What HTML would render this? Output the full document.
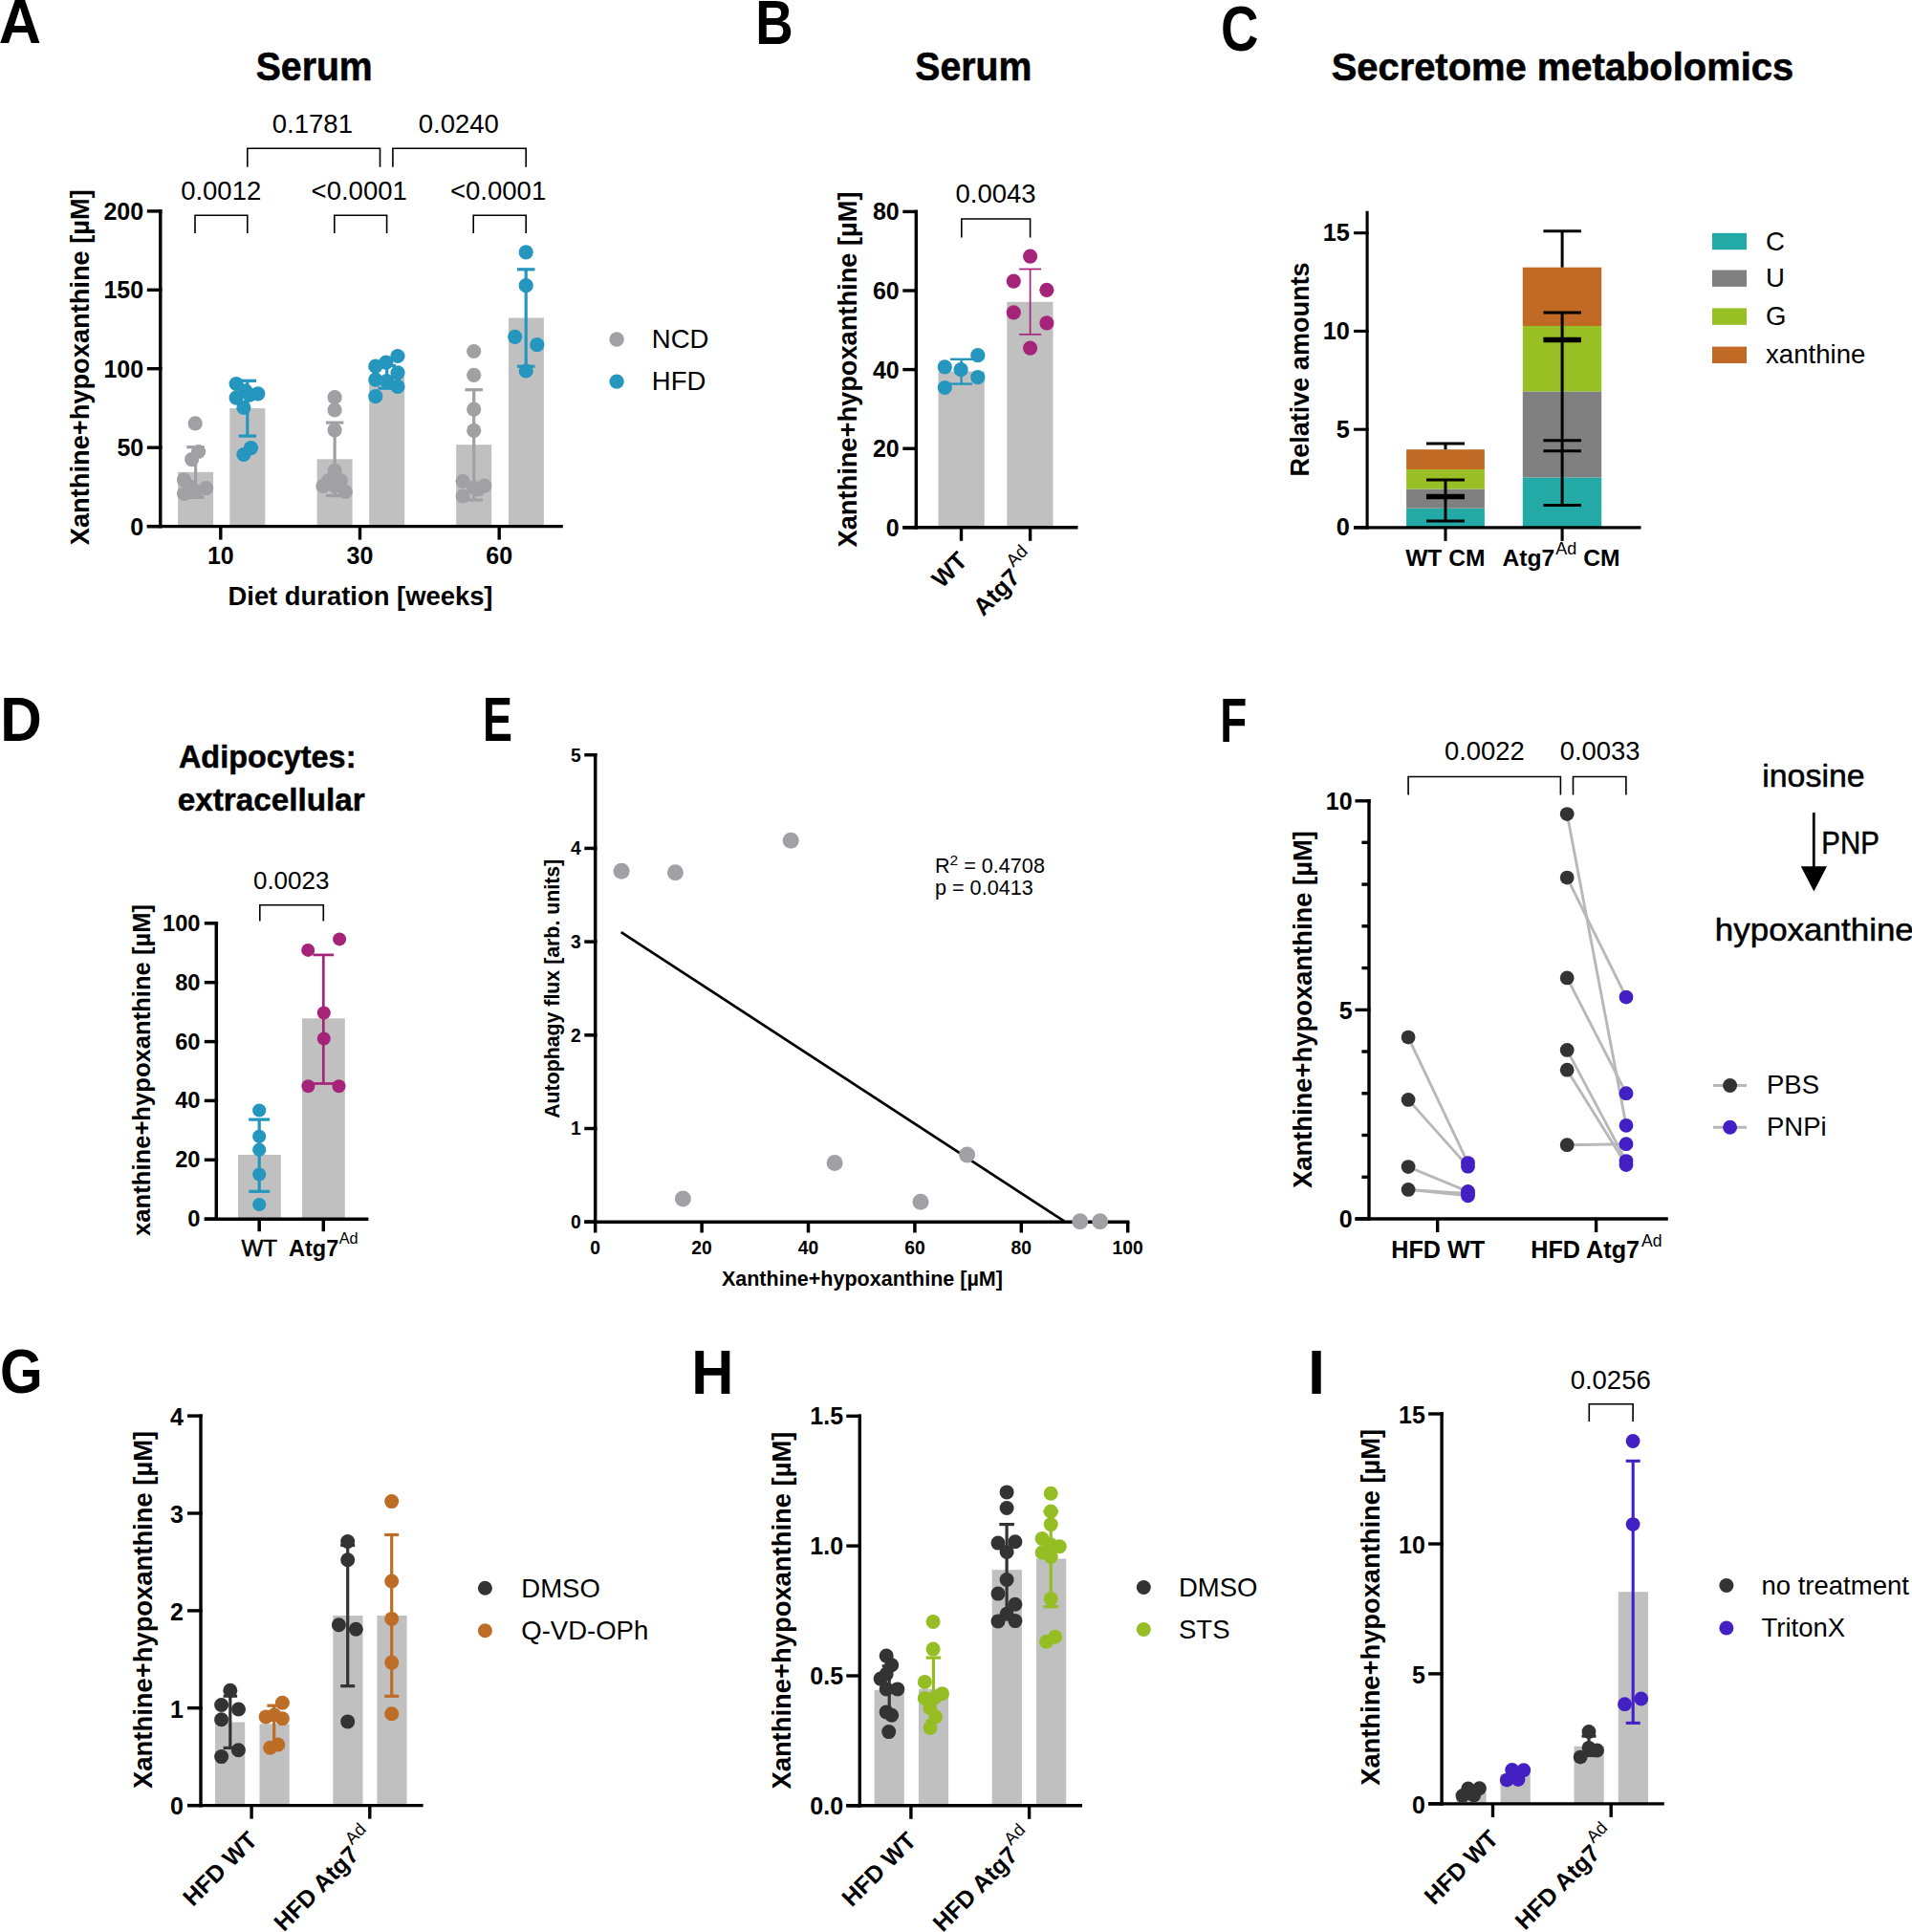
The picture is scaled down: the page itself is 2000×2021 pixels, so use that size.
<!DOCTYPE html>
<html lang="en"><head><meta charset="utf-8"><title>Figure</title>
<style>html,body{margin:0;padding:0;background:#fff}svg{display:block}text{font-family:'Liberation Sans', sans-serif;fill:#000}</style>
</head><body>
<svg width="2000" height="2021" viewBox="0 0 2000 2021">
<rect width="2000" height="2021" fill="#fff"/>
<text x="-1.2" y="45.0" font-size="65" font-weight="bold" text-anchor="start" textLength="44.3" lengthAdjust="spacingAndGlyphs">A</text>
<text x="328.7" y="84.1" font-size="42.5" font-weight="bold" text-anchor="middle" stroke="#000" stroke-width="0.6" textLength="122" lengthAdjust="spacingAndGlyphs">Serum</text>
<rect x="186.1" y="493.8" width="37.0" height="56.8" fill="#c0c0c0"/>
<rect x="240.3" y="427.1" width="37.0" height="123.5" fill="#c0c0c0"/>
<rect x="331.6" y="480.3" width="37.0" height="70.3" fill="#c0c0c0"/>
<rect x="386.2" y="394.2" width="37.0" height="156.4" fill="#c0c0c0"/>
<rect x="477.2" y="465.2" width="37.0" height="85.4" fill="#c0c0c0"/>
<rect x="531.9" y="332.5" width="37.0" height="218.1" fill="#c0c0c0"/>
<line x1="167.8" y1="219.2" x2="167.8" y2="552.3" stroke="#000" stroke-width="3.4" stroke-linecap="butt"/>
<line x1="153.8" y1="220.9" x2="169.5" y2="220.9" stroke="#000" stroke-width="3.4" stroke-linecap="butt"/>
<text x="150.2" y="229.8" font-size="25" font-weight="bold" text-anchor="end">200</text>
<line x1="153.8" y1="303.3" x2="169.5" y2="303.3" stroke="#000" stroke-width="3.4" stroke-linecap="butt"/>
<text x="150.2" y="312.2" font-size="25" font-weight="bold" text-anchor="end">150</text>
<line x1="153.8" y1="385.7" x2="169.5" y2="385.7" stroke="#000" stroke-width="3.4" stroke-linecap="butt"/>
<text x="150.2" y="394.6" font-size="25" font-weight="bold" text-anchor="end">100</text>
<line x1="153.8" y1="468.2" x2="169.5" y2="468.2" stroke="#000" stroke-width="3.4" stroke-linecap="butt"/>
<text x="150.2" y="477.1" font-size="25" font-weight="bold" text-anchor="end">50</text>
<line x1="153.8" y1="550.6" x2="169.5" y2="550.6" stroke="#000" stroke-width="3.4" stroke-linecap="butt"/>
<text x="150.2" y="559.6" font-size="25" font-weight="bold" text-anchor="end">0</text>
<line x1="153.8" y1="550.6" x2="588.8" y2="550.6" stroke="#000" stroke-width="3.4" stroke-linecap="butt"/>
<line x1="230.8" y1="550.6" x2="230.8" y2="564.6" stroke="#000" stroke-width="3.4" stroke-linecap="butt"/>
<line x1="376.5" y1="550.6" x2="376.5" y2="564.6" stroke="#000" stroke-width="3.4" stroke-linecap="butt"/>
<line x1="522.2" y1="550.6" x2="522.2" y2="564.6" stroke="#000" stroke-width="3.4" stroke-linecap="butt"/>
<text x="230.8" y="590.4" font-size="25" font-weight="bold" text-anchor="middle">10</text>
<text x="376.5" y="590.4" font-size="25" font-weight="bold" text-anchor="middle">30</text>
<text x="522.2" y="590.4" font-size="25" font-weight="bold" text-anchor="middle">60</text>
<text x="377.0" y="632.6" font-size="27.4" font-weight="bold" text-anchor="middle" textLength="277" lengthAdjust="spacingAndGlyphs">Diet duration [weeks]</text>
<text transform="translate(92.6,384.2) rotate(-90)" font-size="27" font-weight="bold" text-anchor="middle" textLength="372" lengthAdjust="spacingAndGlyphs">Xanthine+hypoxanthine [µM]</text>
<line x1="204.6" y1="467.7" x2="204.6" y2="520.4" stroke="#a0a0a5" stroke-width="3.2" stroke-linecap="butt"/>
<line x1="195.3" y1="467.7" x2="213.8" y2="467.7" stroke="#a0a0a5" stroke-width="3.2" stroke-linecap="butt"/>
<line x1="195.3" y1="520.4" x2="213.8" y2="520.4" stroke="#a0a0a5" stroke-width="3.2" stroke-linecap="butt"/>
<circle cx="204.2" cy="442.9" r="7.6" fill="#a0a0a5"/>
<circle cx="207.6" cy="472.5" r="7.6" fill="#a0a0a5"/>
<circle cx="200.6" cy="480.6" r="7.6" fill="#a0a0a5"/>
<circle cx="192.5" cy="501.8" r="7.6" fill="#a0a0a5"/>
<circle cx="215.6" cy="510.6" r="7.6" fill="#a0a0a5"/>
<circle cx="192.5" cy="516.5" r="7.6" fill="#a0a0a5"/>
<circle cx="205.4" cy="514.3" r="7.6" fill="#a0a0a5"/>
<circle cx="199.0" cy="509.0" r="7.6" fill="#a0a0a5"/>
<line x1="258.8" y1="398.3" x2="258.8" y2="456.1" stroke="#2596be" stroke-width="3.2" stroke-linecap="butt"/>
<line x1="249.6" y1="398.3" x2="268.1" y2="398.3" stroke="#2596be" stroke-width="3.2" stroke-linecap="butt"/>
<line x1="249.6" y1="456.1" x2="268.1" y2="456.1" stroke="#2596be" stroke-width="3.2" stroke-linecap="butt"/>
<circle cx="247.1" cy="401.5" r="7.6" fill="#2596be"/>
<circle cx="256.7" cy="408.8" r="7.6" fill="#2596be"/>
<circle cx="269.8" cy="411.8" r="7.6" fill="#2596be"/>
<circle cx="247.1" cy="416.1" r="7.6" fill="#2596be"/>
<circle cx="261.0" cy="413.2" r="7.6" fill="#2596be"/>
<circle cx="254.9" cy="426.4" r="7.6" fill="#2596be"/>
<circle cx="262.5" cy="468.6" r="7.6" fill="#2596be"/>
<circle cx="254.9" cy="475.5" r="7.6" fill="#2596be"/>
<line x1="350.1" y1="442.1" x2="350.1" y2="518.6" stroke="#a0a0a5" stroke-width="3.2" stroke-linecap="butt"/>
<line x1="340.9" y1="442.1" x2="359.4" y2="442.1" stroke="#a0a0a5" stroke-width="3.2" stroke-linecap="butt"/>
<line x1="340.9" y1="518.6" x2="359.4" y2="518.6" stroke="#a0a0a5" stroke-width="3.2" stroke-linecap="butt"/>
<circle cx="350.1" cy="415.7" r="7.6" fill="#a0a0a5"/>
<circle cx="350.1" cy="428.9" r="7.6" fill="#a0a0a5"/>
<circle cx="350.1" cy="449.8" r="7.6" fill="#a0a0a5"/>
<circle cx="350.1" cy="492.3" r="7.6" fill="#a0a0a5"/>
<circle cx="343.8" cy="502.5" r="7.6" fill="#a0a0a5"/>
<circle cx="356.2" cy="502.5" r="7.6" fill="#a0a0a5"/>
<circle cx="337.9" cy="508.4" r="7.6" fill="#a0a0a5"/>
<circle cx="350.1" cy="508.4" r="7.6" fill="#a0a0a5"/>
<circle cx="361.3" cy="514.3" r="7.6" fill="#a0a0a5"/>
<line x1="404.7" y1="382.5" x2="404.7" y2="406.2" stroke="#2596be" stroke-width="3.2" stroke-linecap="butt"/>
<line x1="395.4" y1="382.5" x2="413.9" y2="382.5" stroke="#2596be" stroke-width="3.2" stroke-linecap="butt"/>
<line x1="395.4" y1="406.2" x2="413.9" y2="406.2" stroke="#2596be" stroke-width="3.2" stroke-linecap="butt"/>
<circle cx="416.0" cy="372.5" r="7.6" fill="#2596be"/>
<circle cx="403.8" cy="379.2" r="7.6" fill="#2596be"/>
<circle cx="392.8" cy="383.2" r="7.6" fill="#2596be"/>
<circle cx="416.0" cy="389.8" r="7.6" fill="#2596be"/>
<circle cx="392.8" cy="397.1" r="7.6" fill="#2596be"/>
<circle cx="404.5" cy="398.6" r="7.6" fill="#2596be"/>
<circle cx="416.0" cy="404.4" r="7.6" fill="#2596be"/>
<circle cx="392.8" cy="414.7" r="7.6" fill="#2596be"/>
<line x1="495.7" y1="407.7" x2="495.7" y2="523.0" stroke="#a0a0a5" stroke-width="3.2" stroke-linecap="butt"/>
<line x1="486.4" y1="407.7" x2="504.9" y2="407.7" stroke="#a0a0a5" stroke-width="3.2" stroke-linecap="butt"/>
<line x1="486.4" y1="523.0" x2="504.9" y2="523.0" stroke="#a0a0a5" stroke-width="3.2" stroke-linecap="butt"/>
<circle cx="495.7" cy="367.5" r="7.6" fill="#a0a0a5"/>
<circle cx="495.7" cy="392.3" r="7.6" fill="#a0a0a5"/>
<circle cx="495.7" cy="428.2" r="7.6" fill="#a0a0a5"/>
<circle cx="495.7" cy="450.4" r="7.6" fill="#a0a0a5"/>
<circle cx="484.1" cy="503.3" r="7.6" fill="#a0a0a5"/>
<circle cx="506.8" cy="508.1" r="7.6" fill="#a0a0a5"/>
<circle cx="495.7" cy="510.2" r="7.6" fill="#a0a0a5"/>
<circle cx="500.3" cy="512.0" r="7.6" fill="#a0a0a5"/>
<circle cx="484.1" cy="519.0" r="7.6" fill="#a0a0a5"/>
<line x1="550.2" y1="281.8" x2="550.2" y2="383.2" stroke="#2596be" stroke-width="3.2" stroke-linecap="butt"/>
<line x1="541.0" y1="281.8" x2="559.5" y2="281.8" stroke="#2596be" stroke-width="3.2" stroke-linecap="butt"/>
<line x1="541.0" y1="383.2" x2="559.5" y2="383.2" stroke="#2596be" stroke-width="3.2" stroke-linecap="butt"/>
<circle cx="550.2" cy="263.8" r="7.6" fill="#2596be"/>
<circle cx="550.2" cy="298.7" r="7.6" fill="#2596be"/>
<circle cx="538.7" cy="352.3" r="7.6" fill="#2596be"/>
<circle cx="561.8" cy="360.7" r="7.6" fill="#2596be"/>
<circle cx="550.2" cy="388.0" r="7.6" fill="#2596be"/>
<path d="M204.0,244.1 V225.3 H258.8 V244.1" fill="none" stroke="#000" stroke-width="1.6"/>
<path d="M349.8,244.1 V225.3 H404.6 V244.1" fill="none" stroke="#000" stroke-width="1.6"/>
<path d="M495.2,244.1 V225.3 H550.2 V244.1" fill="none" stroke="#000" stroke-width="1.6"/>
<path d="M258.8,174.7 V155.2 H397.5 V174.7" fill="none" stroke="#000" stroke-width="1.6"/>
<path d="M410.9,174.7 V155.2 H550.2 V174.7" fill="none" stroke="#000" stroke-width="1.6"/>
<text x="231.2" y="208.8" font-size="27.5" text-anchor="middle">0.0012</text>
<text x="375.7" y="208.8" font-size="27.5" text-anchor="middle">&lt;0.0001</text>
<text x="521.1" y="208.8" font-size="27.5" text-anchor="middle">&lt;0.0001</text>
<text x="326.9" y="139.1" font-size="27.5" text-anchor="middle">0.1781</text>
<text x="479.8" y="139.1" font-size="27.5" text-anchor="middle">0.0240</text>
<circle cx="645.1" cy="355.0" r="7.7" fill="#a0a0a5"/>
<circle cx="645.1" cy="399.1" r="7.7" fill="#2596be"/>
<text x="681.8" y="364.1" font-size="27.5" text-anchor="start">NCD</text>
<text x="681.8" y="408.1" font-size="27.5" text-anchor="start">HFD</text>
<text x="790.2" y="46.0" font-size="65" font-weight="bold" text-anchor="start" textLength="39.5" lengthAdjust="spacingAndGlyphs">B</text>
<text x="1018.3" y="84.1" font-size="42.5" font-weight="bold" text-anchor="middle" stroke="#000" stroke-width="0.6" textLength="122" lengthAdjust="spacingAndGlyphs">Serum</text>
<rect x="981.5" y="388.5" width="48.2" height="163.3" fill="#c0c0c0"/>
<rect x="1053.3" y="315.8" width="48.2" height="236.0" fill="#c0c0c0"/>
<line x1="958.3" y1="219.7" x2="958.3" y2="553.5" stroke="#000" stroke-width="3.4" stroke-linecap="butt"/>
<line x1="944.3" y1="221.4" x2="960.0" y2="221.4" stroke="#000" stroke-width="3.4" stroke-linecap="butt"/>
<text x="940.7" y="230.3" font-size="25" font-weight="bold" text-anchor="end">80</text>
<line x1="944.3" y1="304.0" x2="960.0" y2="304.0" stroke="#000" stroke-width="3.4" stroke-linecap="butt"/>
<text x="940.7" y="312.9" font-size="25" font-weight="bold" text-anchor="end">60</text>
<line x1="944.3" y1="386.6" x2="960.0" y2="386.6" stroke="#000" stroke-width="3.4" stroke-linecap="butt"/>
<text x="940.7" y="395.6" font-size="25" font-weight="bold" text-anchor="end">40</text>
<line x1="944.3" y1="469.2" x2="960.0" y2="469.2" stroke="#000" stroke-width="3.4" stroke-linecap="butt"/>
<text x="940.7" y="478.1" font-size="25" font-weight="bold" text-anchor="end">20</text>
<line x1="944.3" y1="551.8" x2="960.0" y2="551.8" stroke="#000" stroke-width="3.4" stroke-linecap="butt"/>
<text x="940.7" y="560.8" font-size="25" font-weight="bold" text-anchor="end">0</text>
<line x1="944.3" y1="551.8" x2="1127.5" y2="551.8" stroke="#000" stroke-width="3.4" stroke-linecap="butt"/>
<line x1="1005.5" y1="551.8" x2="1005.5" y2="565.8" stroke="#000" stroke-width="3.4" stroke-linecap="butt"/>
<line x1="1077.6" y1="551.8" x2="1077.6" y2="565.8" stroke="#000" stroke-width="3.4" stroke-linecap="butt"/>
<text transform="translate(896.1,386.5) rotate(-90)" font-size="27" font-weight="bold" text-anchor="middle" textLength="372" lengthAdjust="spacingAndGlyphs">Xanthine+hypoxanthine [µM]</text>
<line x1="1005.6" y1="375.8" x2="1005.6" y2="401.6" stroke="#2596be" stroke-width="2.4" stroke-linecap="butt"/>
<line x1="994.1" y1="375.8" x2="1017.1" y2="375.8" stroke="#2596be" stroke-width="2.4" stroke-linecap="butt"/>
<line x1="994.1" y1="401.6" x2="1017.1" y2="401.6" stroke="#2596be" stroke-width="2.4" stroke-linecap="butt"/>
<circle cx="1022.8" cy="371.7" r="7.6" fill="#2596be"/>
<circle cx="988.3" cy="383.9" r="7.6" fill="#2596be"/>
<circle cx="1005.1" cy="386.7" r="7.6" fill="#2596be"/>
<circle cx="1022.8" cy="394.7" r="7.6" fill="#2596be"/>
<circle cx="988.3" cy="405.5" r="7.6" fill="#2596be"/>
<line x1="1077.6" y1="281.5" x2="1077.6" y2="349.8" stroke="#a6237a" stroke-width="1.7" stroke-linecap="butt"/>
<line x1="1066.1" y1="281.5" x2="1089.1" y2="281.5" stroke="#a6237a" stroke-width="1.7" stroke-linecap="butt"/>
<line x1="1066.1" y1="349.8" x2="1089.1" y2="349.8" stroke="#a6237a" stroke-width="1.7" stroke-linecap="butt"/>
<circle cx="1077.6" cy="268.1" r="7.6" fill="#a6237a"/>
<circle cx="1060.3" cy="294.1" r="7.6" fill="#a6237a"/>
<circle cx="1094.9" cy="303.3" r="7.6" fill="#a6237a"/>
<circle cx="1060.3" cy="326.8" r="7.6" fill="#a6237a"/>
<circle cx="1094.9" cy="337.9" r="7.6" fill="#a6237a"/>
<circle cx="1077.6" cy="364.1" r="7.6" fill="#a6237a"/>
<path d="M1005.8,248.6 V229.0 H1077.6 V248.6" fill="none" stroke="#000" stroke-width="1.6"/>
<text x="1041.6" y="212.2" font-size="27.5" text-anchor="middle">0.0043</text>
<text transform="translate(1013.3,588.1) rotate(-45)" font-size="25.5" font-weight="bold" text-anchor="end">WT</text>
<text transform="translate(1086.1,587.9) rotate(-45)" font-size="25.5" font-weight="bold" text-anchor="end">Atg7<tspan font-weight="normal" font-size="18.6" dx="2" dy="-14.3">Ad</tspan></text>
<text x="1277.0" y="52.8" font-size="66.5" font-weight="bold" text-anchor="start" textLength="39.5" lengthAdjust="spacingAndGlyphs">C</text>
<text x="1634.4" y="83.6" font-size="41.5" font-weight="bold" text-anchor="middle" stroke="#000" stroke-width="0.6" textLength="483.5" lengthAdjust="spacingAndGlyphs">Secretome metabolomics</text>
<rect x="1471.1" y="531.7" width="81.8" height="20.2" fill="#23aaa6"/>
<rect x="1471.1" y="511.5" width="81.8" height="20.2" fill="#808080"/>
<rect x="1471.1" y="491.1" width="81.8" height="20.4" fill="#98c024"/>
<rect x="1471.1" y="470.2" width="81.8" height="20.9" fill="#c06a26"/>
<rect x="1592.8" y="499.4" width="82.4" height="52.5" fill="#23aaa6"/>
<rect x="1592.8" y="409.4" width="82.4" height="90.0" fill="#808080"/>
<rect x="1592.8" y="341.0" width="82.4" height="68.4" fill="#98c024"/>
<rect x="1592.8" y="279.7" width="82.4" height="61.3" fill="#c06a26"/>
<line x1="1512.0" y1="464.1" x2="1512.0" y2="470.2" stroke="#000" stroke-width="3.0" stroke-linecap="butt"/>
<line x1="1492.0" y1="464.1" x2="1532.0" y2="464.1" stroke="#000" stroke-width="3.0" stroke-linecap="butt"/>
<line x1="1512.0" y1="502.1" x2="1512.0" y2="544.9" stroke="#000" stroke-width="3.0" stroke-linecap="butt"/>
<line x1="1492.0" y1="502.1" x2="1532.0" y2="502.1" stroke="#000" stroke-width="3.0" stroke-linecap="butt"/>
<line x1="1492.0" y1="519.6" x2="1532.0" y2="519.6" stroke="#000" stroke-width="5.5" stroke-linecap="butt"/>
<line x1="1492.0" y1="544.9" x2="1532.0" y2="544.9" stroke="#000" stroke-width="3.0" stroke-linecap="butt"/>
<line x1="1634.1" y1="241.7" x2="1634.1" y2="279.7" stroke="#000" stroke-width="3.0" stroke-linecap="butt"/>
<line x1="1614.4" y1="241.7" x2="1653.9" y2="241.7" stroke="#000" stroke-width="3.0" stroke-linecap="butt"/>
<line x1="1634.1" y1="327.0" x2="1634.1" y2="528.4" stroke="#000" stroke-width="3.0" stroke-linecap="butt"/>
<line x1="1614.4" y1="327.0" x2="1653.9" y2="327.0" stroke="#000" stroke-width="3.0" stroke-linecap="butt"/>
<line x1="1614.4" y1="355.5" x2="1653.9" y2="355.5" stroke="#000" stroke-width="5.5" stroke-linecap="butt"/>
<line x1="1614.4" y1="460.8" x2="1653.9" y2="460.8" stroke="#000" stroke-width="3.0" stroke-linecap="butt"/>
<line x1="1614.4" y1="471.7" x2="1653.9" y2="471.7" stroke="#000" stroke-width="3.0" stroke-linecap="butt"/>
<line x1="1614.4" y1="528.4" x2="1653.9" y2="528.4" stroke="#000" stroke-width="3.0" stroke-linecap="butt"/>
<line x1="1430.1" y1="220.8" x2="1430.1" y2="553.4" stroke="#000" stroke-width="3.1" stroke-linecap="butt"/>
<line x1="1416.1" y1="243.7" x2="1431.6" y2="243.7" stroke="#000" stroke-width="3.1" stroke-linecap="butt"/>
<text x="1411.9" y="252.0" font-size="25.3" font-weight="bold" text-anchor="end">15</text>
<line x1="1416.1" y1="346.4" x2="1431.6" y2="346.4" stroke="#000" stroke-width="3.1" stroke-linecap="butt"/>
<text x="1411.9" y="354.7" font-size="25.3" font-weight="bold" text-anchor="end">10</text>
<line x1="1416.1" y1="449.2" x2="1431.6" y2="449.2" stroke="#000" stroke-width="3.1" stroke-linecap="butt"/>
<text x="1411.9" y="457.5" font-size="25.3" font-weight="bold" text-anchor="end">5</text>
<line x1="1416.1" y1="551.9" x2="1431.6" y2="551.9" stroke="#000" stroke-width="3.1" stroke-linecap="butt"/>
<text x="1411.9" y="560.2" font-size="25.3" font-weight="bold" text-anchor="end">0</text>
<line x1="1416.2" y1="551.9" x2="1716.5" y2="551.9" stroke="#000" stroke-width="3.1" stroke-linecap="butt"/>
<line x1="1512.0" y1="551.9" x2="1512.0" y2="565.9" stroke="#000" stroke-width="3.1" stroke-linecap="butt"/>
<line x1="1634.1" y1="551.9" x2="1634.1" y2="565.9" stroke="#000" stroke-width="3.1" stroke-linecap="butt"/>
<text transform="translate(1369.3,386.4) rotate(-90)" font-size="27.5" font-weight="bold" text-anchor="middle" textLength="224" lengthAdjust="spacingAndGlyphs">Relative amounts</text>
<text x="1511.8" y="592.1" font-size="24.6" font-weight="bold" text-anchor="middle">WT CM</text>
<text x="1633.0" y="592.1" font-size="24.6" font-weight="bold" text-anchor="middle">Atg7<tspan font-weight="normal" font-size="18" dx="1" dy="-12.5">Ad</tspan><tspan dy="12.5"> CM</tspan></text>
<rect x="1791.0" y="243.8" width="36.0" height="17.4" fill="#23aaa6"/>
<text x="1847.0" y="261.5" font-size="27.6" text-anchor="start">C</text>
<rect x="1791.0" y="282.5" width="36.0" height="17.4" fill="#808080"/>
<text x="1847.0" y="300.2" font-size="27.6" text-anchor="start">U</text>
<rect x="1791.0" y="322.4" width="36.0" height="17.4" fill="#98c024"/>
<text x="1847.0" y="340.1" font-size="27.6" text-anchor="start">G</text>
<rect x="1791.0" y="362.6" width="36.0" height="17.4" fill="#c06a26"/>
<text x="1847.0" y="380.3" font-size="27.6" text-anchor="start">xanthine</text>
<text x="0.3" y="775.0" font-size="65" font-weight="bold" text-anchor="start" textLength="43.5" lengthAdjust="spacingAndGlyphs">D</text>
<text x="279.7" y="802.6" font-size="32.8" font-weight="bold" text-anchor="middle" stroke="#000" stroke-width="0.5" textLength="185.5" lengthAdjust="spacingAndGlyphs">Adipocytes:</text>
<text x="283.7" y="847.8" font-size="32.8" font-weight="bold" text-anchor="middle" stroke="#000" stroke-width="0.5" textLength="196" lengthAdjust="spacingAndGlyphs">extracellular</text>
<rect x="249.0" y="1208.0" width="44.8" height="67.2" fill="#c0c0c0"/>
<rect x="316.0" y="1065.3" width="44.8" height="209.9" fill="#c0c0c0"/>
<line x1="226.3" y1="964.0" x2="226.3" y2="1277.0" stroke="#000" stroke-width="3.5" stroke-linecap="butt"/>
<line x1="213.8" y1="965.8" x2="228.1" y2="965.8" stroke="#000" stroke-width="3.5" stroke-linecap="butt"/>
<text x="209.5" y="973.7" font-size="23.7" font-weight="bold" text-anchor="end">100</text>
<line x1="213.8" y1="1027.7" x2="228.1" y2="1027.7" stroke="#000" stroke-width="3.5" stroke-linecap="butt"/>
<text x="209.5" y="1035.6" font-size="23.7" font-weight="bold" text-anchor="end">80</text>
<line x1="213.8" y1="1089.6" x2="228.1" y2="1089.6" stroke="#000" stroke-width="3.5" stroke-linecap="butt"/>
<text x="209.5" y="1097.5" font-size="23.7" font-weight="bold" text-anchor="end">60</text>
<line x1="213.8" y1="1151.4" x2="228.1" y2="1151.4" stroke="#000" stroke-width="3.5" stroke-linecap="butt"/>
<text x="209.5" y="1159.3" font-size="23.7" font-weight="bold" text-anchor="end">40</text>
<line x1="213.8" y1="1213.3" x2="228.1" y2="1213.3" stroke="#000" stroke-width="3.5" stroke-linecap="butt"/>
<text x="209.5" y="1221.2" font-size="23.7" font-weight="bold" text-anchor="end">20</text>
<line x1="213.8" y1="1275.2" x2="228.1" y2="1275.2" stroke="#000" stroke-width="3.5" stroke-linecap="butt"/>
<text x="209.5" y="1283.1" font-size="23.7" font-weight="bold" text-anchor="end">0</text>
<line x1="213.8" y1="1275.2" x2="385.4" y2="1275.2" stroke="#000" stroke-width="3.5" stroke-linecap="butt"/>
<line x1="271.2" y1="1275.2" x2="271.2" y2="1288.2" stroke="#000" stroke-width="3.5" stroke-linecap="butt"/>
<line x1="338.3" y1="1275.2" x2="338.3" y2="1288.2" stroke="#000" stroke-width="3.5" stroke-linecap="butt"/>
<text transform="translate(157.1,1119.4) rotate(-90)" font-size="25.5" font-weight="bold" text-anchor="middle" textLength="347" lengthAdjust="spacingAndGlyphs">xanthine+hypoxanthine [µM]</text>
<line x1="271.2" y1="1171.1" x2="271.2" y2="1246.3" stroke="#2596be" stroke-width="3.2" stroke-linecap="butt"/>
<line x1="260.2" y1="1171.1" x2="282.2" y2="1171.1" stroke="#2596be" stroke-width="3.2" stroke-linecap="butt"/>
<line x1="260.2" y1="1246.3" x2="282.2" y2="1246.3" stroke="#2596be" stroke-width="3.2" stroke-linecap="butt"/>
<circle cx="271.2" cy="1161.5" r="7.1" fill="#2596be"/>
<circle cx="271.2" cy="1188.8" r="7.1" fill="#2596be"/>
<circle cx="271.2" cy="1202.7" r="7.1" fill="#2596be"/>
<circle cx="271.2" cy="1228.5" r="7.1" fill="#2596be"/>
<circle cx="271.2" cy="1260.0" r="7.1" fill="#2596be"/>
<line x1="338.3" y1="998.9" x2="338.3" y2="1133.5" stroke="#a6237a" stroke-width="2.7" stroke-linecap="butt"/>
<line x1="327.4" y1="998.9" x2="349.2" y2="998.9" stroke="#a6237a" stroke-width="2.7" stroke-linecap="butt"/>
<line x1="327.4" y1="1133.5" x2="349.2" y2="1133.5" stroke="#a6237a" stroke-width="2.7" stroke-linecap="butt"/>
<circle cx="355.1" cy="982.4" r="7.0" fill="#a6237a"/>
<circle cx="322.2" cy="993.9" r="7.0" fill="#a6237a"/>
<circle cx="338.8" cy="1059.5" r="7.0" fill="#a6237a"/>
<circle cx="338.8" cy="1086.5" r="7.0" fill="#a6237a"/>
<circle cx="322.4" cy="1136.2" r="7.0" fill="#a6237a"/>
<circle cx="354.5" cy="1136.2" r="7.0" fill="#a6237a"/>
<path d="M271.8,963.5 V946.7 H338.3 V963.5" fill="none" stroke="#000" stroke-width="1.6"/>
<text x="304.7" y="929.9" font-size="26" text-anchor="middle">0.0023</text>
<text x="271.2" y="1313.8" font-size="24.2" text-anchor="middle" stroke="#000" stroke-width="0.55">WT</text>
<text x="302.0" y="1313.8" font-size="23.5" font-weight="bold" text-anchor="start">Atg7<tspan font-weight="normal" font-size="16.3" dx="0.5" dy="-12.4">Ad</tspan></text>
<text x="505.0" y="775.4" font-size="65" font-weight="bold" text-anchor="start" textLength="31" lengthAdjust="spacingAndGlyphs">E</text>
<line x1="622.7" y1="788.0" x2="622.7" y2="1280.0" stroke="#000" stroke-width="3.5" stroke-linecap="butt"/>
<line x1="611.3" y1="789.7" x2="624.5" y2="789.7" stroke="#000" stroke-width="3.5" stroke-linecap="butt"/>
<text x="607.8" y="796.6" font-size="19.3" font-weight="bold" text-anchor="end">5</text>
<line x1="611.3" y1="887.4" x2="624.5" y2="887.4" stroke="#000" stroke-width="3.5" stroke-linecap="butt"/>
<text x="607.8" y="894.3" font-size="19.3" font-weight="bold" text-anchor="end">4</text>
<line x1="611.3" y1="985.1" x2="624.5" y2="985.1" stroke="#000" stroke-width="3.5" stroke-linecap="butt"/>
<text x="607.8" y="992.0" font-size="19.3" font-weight="bold" text-anchor="end">3</text>
<line x1="611.3" y1="1082.8" x2="624.5" y2="1082.8" stroke="#000" stroke-width="3.5" stroke-linecap="butt"/>
<text x="607.8" y="1089.7" font-size="19.3" font-weight="bold" text-anchor="end">2</text>
<line x1="611.3" y1="1180.5" x2="624.5" y2="1180.5" stroke="#000" stroke-width="3.5" stroke-linecap="butt"/>
<text x="607.8" y="1187.4" font-size="19.3" font-weight="bold" text-anchor="end">1</text>
<line x1="611.3" y1="1278.2" x2="624.5" y2="1278.2" stroke="#000" stroke-width="3.5" stroke-linecap="butt"/>
<text x="607.8" y="1285.1" font-size="19.3" font-weight="bold" text-anchor="end">0</text>
<line x1="611.3" y1="1278.2" x2="1181.4" y2="1278.2" stroke="#000" stroke-width="3.5" stroke-linecap="butt"/>
<line x1="622.7" y1="1278.2" x2="622.7" y2="1289.5" stroke="#000" stroke-width="3.5" stroke-linecap="butt"/>
<line x1="734.1" y1="1278.2" x2="734.1" y2="1289.5" stroke="#000" stroke-width="3.5" stroke-linecap="butt"/>
<line x1="845.5" y1="1278.2" x2="845.5" y2="1289.5" stroke="#000" stroke-width="3.5" stroke-linecap="butt"/>
<line x1="956.9" y1="1278.2" x2="956.9" y2="1289.5" stroke="#000" stroke-width="3.5" stroke-linecap="butt"/>
<line x1="1068.3" y1="1278.2" x2="1068.3" y2="1289.5" stroke="#000" stroke-width="3.5" stroke-linecap="butt"/>
<line x1="1179.7" y1="1278.2" x2="1179.7" y2="1289.5" stroke="#000" stroke-width="3.5" stroke-linecap="butt"/>
<text x="622.7" y="1311.7" font-size="19.3" font-weight="bold" text-anchor="middle">0</text>
<text x="734.1" y="1311.7" font-size="19.3" font-weight="bold" text-anchor="middle">20</text>
<text x="845.5" y="1311.7" font-size="19.3" font-weight="bold" text-anchor="middle">40</text>
<text x="956.9" y="1311.7" font-size="19.3" font-weight="bold" text-anchor="middle">60</text>
<text x="1068.3" y="1311.7" font-size="19.3" font-weight="bold" text-anchor="middle">80</text>
<text x="1179.7" y="1311.7" font-size="19.3" font-weight="bold" text-anchor="middle">100</text>
<text x="901.9" y="1345.3" font-size="21.4" font-weight="bold" text-anchor="middle" textLength="294" lengthAdjust="spacingAndGlyphs">Xanthine+hypoxanthine [µM]</text>
<text transform="translate(584.8,1034.3) rotate(-90)" font-size="21.3" font-weight="bold" text-anchor="middle" textLength="271" lengthAdjust="spacingAndGlyphs">Autophagy flux [arb. units]</text>
<line x1="649.7" y1="975.1" x2="1113.5" y2="1277.7" stroke="#000" stroke-width="2.7" stroke-linecap="butt"/>
<circle cx="650.1" cy="911.3" r="8.5" fill="#a0a0a5"/>
<circle cx="706.4" cy="912.8" r="8.5" fill="#a0a0a5"/>
<circle cx="827.2" cy="879.3" r="8.5" fill="#a0a0a5"/>
<circle cx="873.1" cy="1216.5" r="8.5" fill="#a0a0a5"/>
<circle cx="714.4" cy="1254.1" r="8.5" fill="#a0a0a5"/>
<circle cx="963.0" cy="1257.2" r="8.5" fill="#a0a0a5"/>
<circle cx="1011.6" cy="1208.0" r="8.5" fill="#a0a0a5"/>
<circle cx="1129.8" cy="1277.7" r="8.5" fill="#a0a0a5"/>
<circle cx="1150.7" cy="1277.7" r="8.5" fill="#a0a0a5"/>
<text x="978.0" y="912.7" font-size="21.6" text-anchor="start">R<tspan font-size="15.5" dy="-7.5">2</tspan><tspan dy="7.5"> = 0.4708</tspan></text>
<text x="978.0" y="936.3" font-size="21.6" text-anchor="start">p = 0.0413</text>
<text x="1276.3" y="776.4" font-size="65" font-weight="bold" text-anchor="start" textLength="28" lengthAdjust="spacingAndGlyphs">F</text>
<line x1="1432.0" y1="836.1" x2="1432.0" y2="1276.7" stroke="#000" stroke-width="3.4" stroke-linecap="butt"/>
<line x1="1417.5" y1="837.8" x2="1433.7" y2="837.8" stroke="#000" stroke-width="3.4" stroke-linecap="butt"/>
<text x="1414.6" y="847.0" font-size="25" font-weight="bold" text-anchor="end">10</text>
<line x1="1417.5" y1="1056.4" x2="1433.7" y2="1056.4" stroke="#000" stroke-width="3.4" stroke-linecap="butt"/>
<text x="1414.6" y="1065.7" font-size="25" font-weight="bold" text-anchor="end">5</text>
<line x1="1417.5" y1="1275.0" x2="1433.7" y2="1275.0" stroke="#000" stroke-width="3.4" stroke-linecap="butt"/>
<text x="1414.6" y="1284.2" font-size="25" font-weight="bold" text-anchor="end">0</text>
<line x1="1424.4" y1="1231.3" x2="1432.0" y2="1231.3" stroke="#000" stroke-width="3.4" stroke-linecap="butt"/>
<line x1="1424.4" y1="1187.5" x2="1432.0" y2="1187.5" stroke="#000" stroke-width="3.4" stroke-linecap="butt"/>
<line x1="1424.4" y1="1143.8" x2="1432.0" y2="1143.8" stroke="#000" stroke-width="3.4" stroke-linecap="butt"/>
<line x1="1424.4" y1="1100.0" x2="1432.0" y2="1100.0" stroke="#000" stroke-width="3.4" stroke-linecap="butt"/>
<line x1="1424.4" y1="1012.6" x2="1432.0" y2="1012.6" stroke="#000" stroke-width="3.4" stroke-linecap="butt"/>
<line x1="1424.4" y1="968.8" x2="1432.0" y2="968.8" stroke="#000" stroke-width="3.4" stroke-linecap="butt"/>
<line x1="1424.4" y1="925.1" x2="1432.0" y2="925.1" stroke="#000" stroke-width="3.4" stroke-linecap="butt"/>
<line x1="1424.4" y1="881.3" x2="1432.0" y2="881.3" stroke="#000" stroke-width="3.4" stroke-linecap="butt"/>
<line x1="1417.5" y1="1275.0" x2="1744.8" y2="1275.0" stroke="#000" stroke-width="3.4" stroke-linecap="butt"/>
<line x1="1503.7" y1="1275.0" x2="1503.7" y2="1289.0" stroke="#000" stroke-width="3.4" stroke-linecap="butt"/>
<line x1="1669.6" y1="1275.0" x2="1669.6" y2="1289.0" stroke="#000" stroke-width="3.4" stroke-linecap="butt"/>
<text transform="translate(1372.1,1056.1) rotate(-90)" font-size="27" font-weight="bold" text-anchor="middle" textLength="374" lengthAdjust="spacingAndGlyphs">Xanthine+hypoxanthine [µM]</text>
<line x1="1473.1" y1="1085.1" x2="1535.5" y2="1216.6" stroke="#b8b8b8" stroke-width="2.9" stroke-linecap="butt"/>
<line x1="1473.1" y1="1150.4" x2="1535.5" y2="1220.2" stroke="#b8b8b8" stroke-width="2.9" stroke-linecap="butt"/>
<line x1="1473.1" y1="1220.6" x2="1535.5" y2="1246.4" stroke="#b8b8b8" stroke-width="2.9" stroke-linecap="butt"/>
<line x1="1473.1" y1="1244.4" x2="1535.5" y2="1250.8" stroke="#b8b8b8" stroke-width="2.9" stroke-linecap="butt"/>
<line x1="1473.1" y1="1244.4" x2="1535.5" y2="1248.5" stroke="#b8b8b8" stroke-width="2.9" stroke-linecap="butt"/>
<line x1="1639.2" y1="851.6" x2="1701.0" y2="1177.3" stroke="#b8b8b8" stroke-width="2.9" stroke-linecap="butt"/>
<line x1="1639.2" y1="918.1" x2="1701.0" y2="1043.1" stroke="#b8b8b8" stroke-width="2.9" stroke-linecap="butt"/>
<line x1="1639.2" y1="1022.9" x2="1701.0" y2="1143.7" stroke="#b8b8b8" stroke-width="2.9" stroke-linecap="butt"/>
<line x1="1639.2" y1="1098.4" x2="1701.0" y2="1214.6" stroke="#b8b8b8" stroke-width="2.9" stroke-linecap="butt"/>
<line x1="1639.2" y1="1119.2" x2="1701.0" y2="1218.6" stroke="#b8b8b8" stroke-width="2.9" stroke-linecap="butt"/>
<line x1="1639.2" y1="1197.7" x2="1701.0" y2="1196.7" stroke="#b8b8b8" stroke-width="2.9" stroke-linecap="butt"/>
<circle cx="1473.1" cy="1085.1" r="7.4" fill="#333333"/>
<circle cx="1473.1" cy="1150.4" r="7.4" fill="#333333"/>
<circle cx="1473.1" cy="1220.6" r="7.4" fill="#333333"/>
<circle cx="1473.1" cy="1244.4" r="7.4" fill="#333333"/>
<circle cx="1535.5" cy="1216.6" r="7.4" fill="#4320c4"/>
<circle cx="1535.5" cy="1220.2" r="7.4" fill="#4320c4"/>
<circle cx="1535.5" cy="1246.4" r="7.4" fill="#4320c4"/>
<circle cx="1535.5" cy="1250.8" r="7.4" fill="#4320c4"/>
<circle cx="1535.5" cy="1248.5" r="7.4" fill="#4320c4"/>
<circle cx="1639.2" cy="851.6" r="7.4" fill="#333333"/>
<circle cx="1701.0" cy="1177.3" r="7.4" fill="#4320c4"/>
<circle cx="1639.2" cy="918.1" r="7.4" fill="#333333"/>
<circle cx="1701.0" cy="1043.1" r="7.4" fill="#4320c4"/>
<circle cx="1639.2" cy="1022.9" r="7.4" fill="#333333"/>
<circle cx="1701.0" cy="1143.7" r="7.4" fill="#4320c4"/>
<circle cx="1639.2" cy="1098.4" r="7.4" fill="#333333"/>
<circle cx="1701.0" cy="1214.6" r="7.4" fill="#4320c4"/>
<circle cx="1639.2" cy="1119.2" r="7.4" fill="#333333"/>
<circle cx="1701.0" cy="1218.6" r="7.4" fill="#4320c4"/>
<circle cx="1639.2" cy="1197.7" r="7.4" fill="#333333"/>
<circle cx="1701.0" cy="1196.7" r="7.4" fill="#4320c4"/>
<path d="M1473.1,831.6 V812.5 H1632.4 V831.6" fill="none" stroke="#000" stroke-width="1.6"/>
<path d="M1645.5,831.6 V812.5 H1700.9 V831.6" fill="none" stroke="#000" stroke-width="1.6"/>
<text x="1552.9" y="795.3" font-size="27.4" text-anchor="middle">0.0022</text>
<text x="1673.6" y="795.3" font-size="27.4" text-anchor="middle">0.0033</text>
<text x="1504.2" y="1316.0" font-size="25.2" font-weight="bold" text-anchor="middle">HFD WT</text>
<text x="1601.3" y="1316.0" font-size="25.2" font-weight="bold" text-anchor="start">HFD Atg7<tspan font-weight="normal" font-size="17.6" dx="2" dy="-12.5">Ad</tspan></text>
<line x1="1792.0" y1="1135.5" x2="1827.0" y2="1135.5" stroke="#b8b8b8" stroke-width="2.9" stroke-linecap="butt"/>
<circle cx="1809.6" cy="1135.5" r="7.5" fill="#333333"/>
<line x1="1792.0" y1="1179.2" x2="1827.0" y2="1179.2" stroke="#b8b8b8" stroke-width="2.9" stroke-linecap="butt"/>
<circle cx="1809.6" cy="1179.2" r="7.5" fill="#4320c4"/>
<text x="1848.0" y="1144.4" font-size="27.5" text-anchor="start">PBS</text>
<text x="1848.0" y="1188.1" font-size="27.5" text-anchor="start">PNPi</text>
<text x="1843.2" y="822.8" font-size="33" text-anchor="start" stroke="#000" stroke-width="0.5" textLength="107.5" lengthAdjust="spacingAndGlyphs">inosine</text>
<text x="1905.3" y="893.1" font-size="33" text-anchor="start" stroke="#000" stroke-width="0.5" textLength="60.5" lengthAdjust="spacingAndGlyphs">PNP</text>
<text x="1793.8" y="983.8" font-size="33" text-anchor="start" stroke="#000" stroke-width="0.5" textLength="208" lengthAdjust="spacingAndGlyphs">hypoxanthine</text>
<line x1="1897.3" y1="850.0" x2="1897.3" y2="908.0" stroke="#000" stroke-width="2.8" stroke-linecap="butt"/>
<path d="M1883.8,906.2 H1911 L1897.4,932.5 Z" fill="#000"/>
<text x="0.0" y="1457.3" font-size="65" font-weight="bold" text-anchor="start" textLength="44.7" lengthAdjust="spacingAndGlyphs">G</text>
<rect x="225.0" y="1801.5" width="31.2" height="87.1" fill="#c0c0c0"/>
<rect x="271.5" y="1803.3" width="31.2" height="85.3" fill="#c0c0c0"/>
<rect x="348.3" y="1690.0" width="31.2" height="198.6" fill="#c0c0c0"/>
<rect x="394.4" y="1690.0" width="31.2" height="198.6" fill="#c0c0c0"/>
<line x1="210.0" y1="1479.4" x2="210.0" y2="1890.3" stroke="#000" stroke-width="3.4" stroke-linecap="butt"/>
<line x1="196.0" y1="1481.1" x2="211.7" y2="1481.1" stroke="#000" stroke-width="3.4" stroke-linecap="butt"/>
<text x="191.8" y="1490.8" font-size="25" font-weight="bold" text-anchor="end">4</text>
<line x1="196.0" y1="1583.0" x2="211.7" y2="1583.0" stroke="#000" stroke-width="3.4" stroke-linecap="butt"/>
<text x="191.8" y="1592.8" font-size="25" font-weight="bold" text-anchor="end">3</text>
<line x1="196.0" y1="1684.9" x2="211.7" y2="1684.9" stroke="#000" stroke-width="3.4" stroke-linecap="butt"/>
<text x="191.8" y="1694.7" font-size="25" font-weight="bold" text-anchor="end">2</text>
<line x1="196.0" y1="1786.7" x2="211.7" y2="1786.7" stroke="#000" stroke-width="3.4" stroke-linecap="butt"/>
<text x="191.8" y="1796.5" font-size="25" font-weight="bold" text-anchor="end">1</text>
<line x1="196.0" y1="1888.6" x2="211.7" y2="1888.6" stroke="#000" stroke-width="3.4" stroke-linecap="butt"/>
<text x="191.8" y="1898.3" font-size="25" font-weight="bold" text-anchor="end">0</text>
<line x1="196.5" y1="1888.6" x2="442.6" y2="1888.6" stroke="#000" stroke-width="3.4" stroke-linecap="butt"/>
<line x1="263.1" y1="1888.6" x2="263.1" y2="1902.6" stroke="#000" stroke-width="3.4" stroke-linecap="butt"/>
<line x1="386.8" y1="1888.6" x2="386.8" y2="1902.6" stroke="#000" stroke-width="3.4" stroke-linecap="butt"/>
<text transform="translate(159.3,1683.9) rotate(-90)" font-size="27" font-weight="bold" text-anchor="middle" textLength="374" lengthAdjust="spacingAndGlyphs">Xanthine+hypoxanthine [µM]</text>
<line x1="240.8" y1="1774.2" x2="240.8" y2="1828.4" stroke="#333333" stroke-width="3.2" stroke-linecap="butt"/>
<line x1="233.6" y1="1774.2" x2="248.1" y2="1774.2" stroke="#333333" stroke-width="3.2" stroke-linecap="butt"/>
<line x1="233.6" y1="1828.4" x2="248.1" y2="1828.4" stroke="#333333" stroke-width="3.2" stroke-linecap="butt"/>
<circle cx="240.8" cy="1768.2" r="7.5" fill="#333333"/>
<circle cx="231.6" cy="1783.5" r="7.5" fill="#333333"/>
<circle cx="249.5" cy="1788.0" r="7.5" fill="#333333"/>
<circle cx="231.6" cy="1798.8" r="7.5" fill="#333333"/>
<circle cx="249.4" cy="1830.7" r="7.5" fill="#333333"/>
<circle cx="231.6" cy="1837.6" r="7.5" fill="#333333"/>
<line x1="286.7" y1="1784.2" x2="286.7" y2="1823.6" stroke="#bd6d26" stroke-width="3.2" stroke-linecap="butt"/>
<line x1="279.4" y1="1784.2" x2="293.9" y2="1784.2" stroke="#bd6d26" stroke-width="3.2" stroke-linecap="butt"/>
<line x1="279.4" y1="1823.6" x2="293.9" y2="1823.6" stroke="#bd6d26" stroke-width="3.2" stroke-linecap="butt"/>
<circle cx="295.4" cy="1781.3" r="7.5" fill="#bd6d26"/>
<circle cx="278.1" cy="1795.9" r="7.5" fill="#bd6d26"/>
<circle cx="295.4" cy="1797.8" r="7.5" fill="#bd6d26"/>
<circle cx="287.0" cy="1794.0" r="7.5" fill="#bd6d26"/>
<circle cx="290.8" cy="1825.0" r="7.5" fill="#bd6d26"/>
<circle cx="282.6" cy="1828.2" r="7.5" fill="#bd6d26"/>
<line x1="363.7" y1="1616.5" x2="363.7" y2="1763.7" stroke="#333333" stroke-width="3.2" stroke-linecap="butt"/>
<line x1="356.2" y1="1616.5" x2="371.2" y2="1616.5" stroke="#333333" stroke-width="3.2" stroke-linecap="butt"/>
<line x1="356.2" y1="1763.7" x2="371.2" y2="1763.7" stroke="#333333" stroke-width="3.2" stroke-linecap="butt"/>
<circle cx="363.7" cy="1612.5" r="7.5" fill="#333333"/>
<circle cx="363.7" cy="1631.8" r="7.5" fill="#333333"/>
<circle cx="354.4" cy="1699.7" r="7.5" fill="#333333"/>
<circle cx="372.3" cy="1704.3" r="7.5" fill="#333333"/>
<circle cx="363.7" cy="1800.9" r="7.5" fill="#333333"/>
<line x1="409.7" y1="1605.5" x2="409.7" y2="1774.3" stroke="#bd6d26" stroke-width="3.2" stroke-linecap="butt"/>
<line x1="402.2" y1="1605.5" x2="417.2" y2="1605.5" stroke="#bd6d26" stroke-width="3.2" stroke-linecap="butt"/>
<line x1="402.2" y1="1774.3" x2="417.2" y2="1774.3" stroke="#bd6d26" stroke-width="3.2" stroke-linecap="butt"/>
<circle cx="409.7" cy="1570.6" r="7.5" fill="#bd6d26"/>
<circle cx="409.7" cy="1654.0" r="7.5" fill="#bd6d26"/>
<circle cx="409.7" cy="1693.4" r="7.5" fill="#bd6d26"/>
<circle cx="409.7" cy="1739.1" r="7.5" fill="#bd6d26"/>
<circle cx="409.7" cy="1792.8" r="7.5" fill="#bd6d26"/>
<text transform="translate(270.5,1926.5) rotate(-45)" font-size="25" font-weight="bold" text-anchor="end">HFD WT</text>
<text transform="translate(393.9,1924.6) rotate(-45)" font-size="25" font-weight="bold" text-anchor="end">HFD Atg7<tspan font-weight="normal" font-size="18.2" dx="2" dy="-14.0">Ad</tspan></text>
<circle cx="507.4" cy="1661.2" r="7.5" fill="#333333"/>
<circle cx="507.4" cy="1705.7" r="7.5" fill="#bd6d26"/>
<text x="545.3" y="1670.9" font-size="27.5" text-anchor="start">DMSO</text>
<text x="545.3" y="1715.4" font-size="27.5" text-anchor="start">Q-VD-OPh</text>
<text x="723.2" y="1458.3" font-size="65" font-weight="bold" text-anchor="start" textLength="44.2" lengthAdjust="spacingAndGlyphs">H</text>
<rect x="914.6" y="1767.8" width="31.2" height="121.0" fill="#c0c0c0"/>
<rect x="960.9" y="1766.8" width="31.2" height="122.0" fill="#c0c0c0"/>
<rect x="1037.7" y="1642.2" width="31.2" height="246.6" fill="#c0c0c0"/>
<rect x="1084.0" y="1630.5" width="31.2" height="258.3" fill="#c0c0c0"/>
<line x1="899.3" y1="1479.6" x2="899.3" y2="1890.5" stroke="#000" stroke-width="3.4" stroke-linecap="butt"/>
<line x1="885.3" y1="1481.3" x2="901.0" y2="1481.3" stroke="#000" stroke-width="3.4" stroke-linecap="butt"/>
<text x="882.1" y="1490.0" font-size="25" font-weight="bold" text-anchor="end">1.5</text>
<line x1="885.3" y1="1617.1" x2="901.0" y2="1617.1" stroke="#000" stroke-width="3.4" stroke-linecap="butt"/>
<text x="882.1" y="1625.8" font-size="25" font-weight="bold" text-anchor="end">1.0</text>
<line x1="885.3" y1="1753.0" x2="901.0" y2="1753.0" stroke="#000" stroke-width="3.4" stroke-linecap="butt"/>
<text x="882.1" y="1761.8" font-size="25" font-weight="bold" text-anchor="end">0.5</text>
<line x1="885.3" y1="1888.8" x2="901.0" y2="1888.8" stroke="#000" stroke-width="3.4" stroke-linecap="butt"/>
<text x="882.1" y="1897.5" font-size="25" font-weight="bold" text-anchor="end">0.0</text>
<line x1="885.2" y1="1888.8" x2="1132.0" y2="1888.8" stroke="#000" stroke-width="3.4" stroke-linecap="butt"/>
<line x1="952.9" y1="1888.8" x2="952.9" y2="1902.8" stroke="#000" stroke-width="3.4" stroke-linecap="butt"/>
<line x1="1076.6" y1="1888.8" x2="1076.6" y2="1902.8" stroke="#000" stroke-width="3.4" stroke-linecap="butt"/>
<text transform="translate(826.9,1684.6) rotate(-90)" font-size="27" font-weight="bold" text-anchor="middle" textLength="374" lengthAdjust="spacingAndGlyphs">Xanthine+hypoxanthine [µM]</text>
<line x1="930.2" y1="1742.8" x2="930.2" y2="1791.7" stroke="#333333" stroke-width="3.2" stroke-linecap="butt"/>
<line x1="922.7" y1="1742.8" x2="937.7" y2="1742.8" stroke="#333333" stroke-width="3.2" stroke-linecap="butt"/>
<line x1="922.7" y1="1791.7" x2="937.7" y2="1791.7" stroke="#333333" stroke-width="3.2" stroke-linecap="butt"/>
<circle cx="927.2" cy="1732.1" r="7.5" fill="#333333"/>
<circle cx="932.7" cy="1741.7" r="7.5" fill="#333333"/>
<circle cx="927.2" cy="1751.1" r="7.5" fill="#333333"/>
<circle cx="921.1" cy="1756.1" r="7.5" fill="#333333"/>
<circle cx="927.2" cy="1766.9" r="7.5" fill="#333333"/>
<circle cx="938.8" cy="1766.9" r="7.5" fill="#333333"/>
<circle cx="927.2" cy="1790.9" r="7.5" fill="#333333"/>
<circle cx="932.7" cy="1794.2" r="7.5" fill="#333333"/>
<circle cx="929.7" cy="1811.6" r="7.5" fill="#333333"/>
<line x1="976.4" y1="1734.1" x2="976.4" y2="1800.0" stroke="#95be25" stroke-width="3.2" stroke-linecap="butt"/>
<line x1="968.6" y1="1734.1" x2="984.2" y2="1734.1" stroke="#95be25" stroke-width="3.2" stroke-linecap="butt"/>
<line x1="968.6" y1="1800.0" x2="984.2" y2="1800.0" stroke="#95be25" stroke-width="3.2" stroke-linecap="butt"/>
<circle cx="976.1" cy="1696.4" r="7.5" fill="#95be25"/>
<circle cx="976.1" cy="1725.1" r="7.5" fill="#95be25"/>
<circle cx="967.3" cy="1759.4" r="7.5" fill="#95be25"/>
<circle cx="985.5" cy="1771.8" r="7.5" fill="#95be25"/>
<circle cx="967.3" cy="1776.5" r="7.5" fill="#95be25"/>
<circle cx="977.7" cy="1776.0" r="7.5" fill="#95be25"/>
<circle cx="972.8" cy="1786.7" r="7.5" fill="#95be25"/>
<circle cx="978.6" cy="1795.8" r="7.5" fill="#95be25"/>
<circle cx="973.1" cy="1807.4" r="7.5" fill="#95be25"/>
<line x1="1053.1" y1="1594.6" x2="1053.1" y2="1690.6" stroke="#333333" stroke-width="3.2" stroke-linecap="butt"/>
<line x1="1045.3" y1="1594.6" x2="1060.9" y2="1594.6" stroke="#333333" stroke-width="3.2" stroke-linecap="butt"/>
<line x1="1045.3" y1="1690.6" x2="1060.9" y2="1690.6" stroke="#333333" stroke-width="3.2" stroke-linecap="butt"/>
<circle cx="1053.1" cy="1560.9" r="7.5" fill="#333333"/>
<circle cx="1053.1" cy="1577.5" r="7.5" fill="#333333"/>
<circle cx="1044.0" cy="1614.1" r="7.5" fill="#333333"/>
<circle cx="1061.9" cy="1612.8" r="7.5" fill="#333333"/>
<circle cx="1053.1" cy="1623.5" r="7.5" fill="#333333"/>
<circle cx="1053.1" cy="1652.5" r="7.5" fill="#333333"/>
<circle cx="1044.0" cy="1667.1" r="7.5" fill="#333333"/>
<circle cx="1061.9" cy="1678.2" r="7.5" fill="#333333"/>
<circle cx="1053.1" cy="1688.2" r="7.5" fill="#333333"/>
<circle cx="1044.0" cy="1695.9" r="7.5" fill="#333333"/>
<circle cx="1061.9" cy="1695.6" r="7.5" fill="#333333"/>
<line x1="1099.2" y1="1581.0" x2="1099.2" y2="1680.7" stroke="#95be25" stroke-width="3.2" stroke-linecap="butt"/>
<line x1="1091.3" y1="1581.0" x2="1107.1" y2="1581.0" stroke="#95be25" stroke-width="3.2" stroke-linecap="butt"/>
<line x1="1091.3" y1="1680.7" x2="1107.1" y2="1680.7" stroke="#95be25" stroke-width="3.2" stroke-linecap="butt"/>
<circle cx="1099.2" cy="1562.2" r="7.5" fill="#95be25"/>
<circle cx="1099.2" cy="1581.0" r="7.5" fill="#95be25"/>
<circle cx="1099.2" cy="1594.6" r="7.5" fill="#95be25"/>
<circle cx="1090.1" cy="1609.5" r="7.5" fill="#95be25"/>
<circle cx="1108.3" cy="1617.7" r="7.5" fill="#95be25"/>
<circle cx="1099.2" cy="1616.1" r="7.5" fill="#95be25"/>
<circle cx="1090.1" cy="1624.0" r="7.5" fill="#95be25"/>
<circle cx="1099.2" cy="1628.5" r="7.5" fill="#95be25"/>
<circle cx="1099.2" cy="1672.4" r="7.5" fill="#95be25"/>
<circle cx="1103.7" cy="1712.2" r="7.5" fill="#95be25"/>
<circle cx="1094.5" cy="1717.2" r="7.5" fill="#95be25"/>
<text transform="translate(959.7,1927.0) rotate(-45)" font-size="25" font-weight="bold" text-anchor="end">HFD WT</text>
<text transform="translate(1083.2,1925.1) rotate(-45)" font-size="25" font-weight="bold" text-anchor="end">HFD Atg7<tspan font-weight="normal" font-size="18.2" dx="2" dy="-14.0">Ad</tspan></text>
<circle cx="1196.3" cy="1660.5" r="7.5" fill="#333333"/>
<circle cx="1196.3" cy="1704.5" r="7.5" fill="#95be25"/>
<text x="1233.0" y="1669.6" font-size="27.5" text-anchor="start">DMSO</text>
<text x="1233.0" y="1713.6" font-size="27.5" text-anchor="start">STS</text>
<text x="1368.0" y="1457.7" font-size="65" font-weight="bold" text-anchor="start">I</text>
<rect x="1523.4" y="1874.8" width="31.2" height="12.1" fill="#c0c0c0"/>
<rect x="1569.6" y="1856.0" width="31.2" height="30.9" fill="#c0c0c0"/>
<rect x="1646.5" y="1826.8" width="31.2" height="60.1" fill="#c0c0c0"/>
<rect x="1692.8" y="1665.2" width="31.2" height="221.7" fill="#c0c0c0"/>
<line x1="1508.1" y1="1477.3" x2="1508.1" y2="1888.6" stroke="#000" stroke-width="3.4" stroke-linecap="butt"/>
<line x1="1494.1" y1="1479.0" x2="1509.8" y2="1479.0" stroke="#000" stroke-width="3.4" stroke-linecap="butt"/>
<text x="1490.8" y="1488.5" font-size="25" font-weight="bold" text-anchor="end">15</text>
<line x1="1494.1" y1="1615.0" x2="1509.8" y2="1615.0" stroke="#000" stroke-width="3.4" stroke-linecap="butt"/>
<text x="1490.8" y="1624.5" font-size="25" font-weight="bold" text-anchor="end">10</text>
<line x1="1494.1" y1="1750.9" x2="1509.8" y2="1750.9" stroke="#000" stroke-width="3.4" stroke-linecap="butt"/>
<text x="1490.8" y="1760.5" font-size="25" font-weight="bold" text-anchor="end">5</text>
<line x1="1494.1" y1="1886.9" x2="1509.8" y2="1886.9" stroke="#000" stroke-width="3.4" stroke-linecap="butt"/>
<text x="1490.8" y="1896.5" font-size="25" font-weight="bold" text-anchor="end">0</text>
<line x1="1494.0" y1="1886.9" x2="1740.8" y2="1886.9" stroke="#000" stroke-width="3.4" stroke-linecap="butt"/>
<line x1="1561.5" y1="1886.9" x2="1561.5" y2="1900.9" stroke="#000" stroke-width="3.4" stroke-linecap="butt"/>
<line x1="1685.2" y1="1886.9" x2="1685.2" y2="1900.9" stroke="#000" stroke-width="3.4" stroke-linecap="butt"/>
<text transform="translate(1442.9,1681.3) rotate(-90)" font-size="27" font-weight="bold" text-anchor="middle" textLength="373" lengthAdjust="spacingAndGlyphs">Xanthine+hypoxanthine [µM]</text>
<circle cx="1535.7" cy="1871.0" r="7.4" fill="#333333"/>
<circle cx="1547.5" cy="1870.7" r="7.4" fill="#333333"/>
<circle cx="1529.9" cy="1878.4" r="7.4" fill="#333333"/>
<circle cx="1541.7" cy="1878.1" r="7.4" fill="#333333"/>
<circle cx="1581.7" cy="1851.4" r="7.4" fill="#4320c4"/>
<circle cx="1593.8" cy="1851.7" r="7.4" fill="#4320c4"/>
<circle cx="1576.2" cy="1862.1" r="7.4" fill="#4320c4"/>
<circle cx="1588.0" cy="1861.6" r="7.4" fill="#4320c4"/>
<line x1="1662.0" y1="1816.1" x2="1662.0" y2="1836.5" stroke="#333333" stroke-width="3.2" stroke-linecap="butt"/>
<line x1="1654.5" y1="1816.1" x2="1669.5" y2="1816.1" stroke="#333333" stroke-width="3.2" stroke-linecap="butt"/>
<line x1="1654.5" y1="1836.5" x2="1669.5" y2="1836.5" stroke="#333333" stroke-width="3.2" stroke-linecap="butt"/>
<circle cx="1662.0" cy="1811.4" r="7.4" fill="#333333"/>
<circle cx="1662.0" cy="1828.3" r="7.4" fill="#333333"/>
<circle cx="1670.6" cy="1831.0" r="7.4" fill="#333333"/>
<circle cx="1653.1" cy="1838.1" r="7.4" fill="#333333"/>
<line x1="1708.2" y1="1528.3" x2="1708.2" y2="1802.4" stroke="#4320c4" stroke-width="3.1" stroke-linecap="butt"/>
<line x1="1700.7" y1="1528.3" x2="1715.7" y2="1528.3" stroke="#4320c4" stroke-width="3.1" stroke-linecap="butt"/>
<line x1="1700.7" y1="1802.4" x2="1715.7" y2="1802.4" stroke="#4320c4" stroke-width="3.1" stroke-linecap="butt"/>
<circle cx="1708.1" cy="1507.5" r="7.4" fill="#4320c4"/>
<circle cx="1708.1" cy="1594.6" r="7.4" fill="#4320c4"/>
<circle cx="1699.5" cy="1782.7" r="7.4" fill="#4320c4"/>
<circle cx="1716.7" cy="1777.0" r="7.4" fill="#4320c4"/>
<path d="M1662.3,1487.1 V1468.7 H1708.1 V1487.1" fill="none" stroke="#000" stroke-width="1.6"/>
<text x="1684.7" y="1452.5" font-size="27.5" text-anchor="middle">0.0256</text>
<text transform="translate(1568.9,1924.9) rotate(-45)" font-size="25" font-weight="bold" text-anchor="end">HFD WT</text>
<text transform="translate(1692.3,1923.0) rotate(-45)" font-size="25" font-weight="bold" text-anchor="end">HFD Atg7<tspan font-weight="normal" font-size="18.2" dx="2" dy="-14.0">Ad</tspan></text>
<circle cx="1805.9" cy="1658.5" r="7.5" fill="#333333"/>
<circle cx="1805.9" cy="1703.0" r="7.5" fill="#4320c4"/>
<text x="1842.5" y="1667.9" font-size="27.5" text-anchor="start">no treatment</text>
<text x="1842.5" y="1712.0" font-size="27.5" text-anchor="start">TritonX</text>
</svg></body></html>
